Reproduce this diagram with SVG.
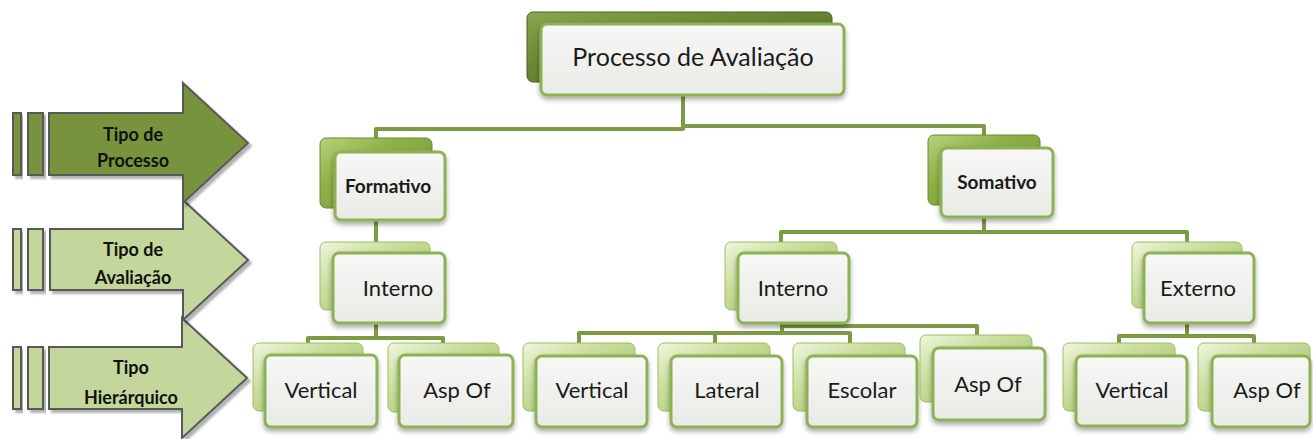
<svg xmlns="http://www.w3.org/2000/svg" width="1313" height="439" viewBox="0 0 1313 439">
  <defs>
    <linearGradient id="gDark" x1="0" y1="0" x2="1" y2="1">
      <stop offset="0" stop-color="#8aa650"/>
      <stop offset="0.35" stop-color="#6d8a36"/>
      <stop offset="1" stop-color="#4f6726"/>
    </linearGradient>
    <linearGradient id="gMid" x1="0" y1="0" x2="1" y2="1">
      <stop offset="0" stop-color="#b5d27a"/>
      <stop offset="0.35" stop-color="#8fb24a"/>
      <stop offset="1" stop-color="#6d8f30"/>
    </linearGradient>
    <linearGradient id="gLight" x1="0" y1="0" x2="1" y2="1">
      <stop offset="0" stop-color="#eef6dd"/>
      <stop offset="0.35" stop-color="#cadf9e"/>
      <stop offset="1" stop-color="#9dba60"/>
    </linearGradient>
    <linearGradient id="gFace" x1="0" y1="0" x2="0" y2="1">
      <stop offset="0" stop-color="#f7f7f5"/>
      <stop offset="1" stop-color="#e9ebe6"/>
    </linearGradient>
    <filter id="soft" x="-20%" y="-20%" width="140%" height="150%">
      <feDropShadow dx="0" dy="3" stdDeviation="2.5" flood-color="#000" flood-opacity="0.35"/>
    </filter>
    <filter id="arrowShadow" x="-10%" y="-10%" width="130%" height="130%">
      <feDropShadow dx="3" dy="3" stdDeviation="1" flood-color="#000" flood-opacity="0.3"/>
    </filter>
    <clipPath id="clipHier">
      <rect x="49" y="340" width="140" height="68"/>
    </clipPath>
    <style>
      .back-dark { fill: url(#gDark); stroke: #4a5f22; stroke-width: 1; }
      .back-mid { fill: url(#gMid); stroke: #6a8a30; stroke-width: 1; }
      .back-light { fill: url(#gLight); stroke: #9fbb68; stroke-width: 1; }
      .face { fill: url(#gFace); stroke: #8db255; stroke-width: 3; filter: url(#soft); }
      .lbl { font-family: Lato, "Liberation Sans", sans-serif; fill: #1a1a1a; text-anchor: middle; }
      .root-lbl { font-size: 25px; }
      .l2-lbl { font-size: 19px; font-weight: bold; }
      .l3-lbl { font-size: 22px; }
      .conn { fill: none; stroke: #7d9a45; stroke-width: 4; stroke-linejoin: round; }
      .arrow { stroke: #595959; stroke-width: 2; filter: url(#arrowShadow); }
      .arrow-dark { fill: #77933c; }
      .arrow-light { fill: #c3d69b; }
      .arrow-lbl { font-family: Lato, "Liberation Sans", sans-serif; font-size: 18px; font-weight: bold; fill: #111; text-anchor: middle; }
    </style>
  </defs>

  <!-- left-hand level arrows -->
  <g id="arrow-hierarquico">
    <rect class="arrow arrow-light" x="13" y="347" width="8" height="62"/>
    <rect class="arrow arrow-light" x="28" y="347" width="15" height="62"/>
    <path class="arrow arrow-light" d="M49 347 H182 V318 L247 378 L182 438 V409 H49 Z"/>
    <g clip-path="url(#clipHier)">
      <text class="arrow-lbl" x="131" y="374">Tipo</text>
      <text class="arrow-lbl" x="131" y="404">Hierárquico</text>
    </g>
  </g>
  <g id="arrow-avaliacao">
    <rect class="arrow arrow-light" x="13" y="229" width="8" height="61"/>
    <rect class="arrow arrow-light" x="28" y="229" width="15" height="61"/>
    <path class="arrow arrow-light" d="M50 229 H183 V200 L248 260 L183 320 V290 H50 Z"/>
    <text class="arrow-lbl" x="133" y="256">Tipo de</text>
    <text class="arrow-lbl" x="133" y="284">Avaliação</text>
  </g>
  <g id="arrow-processo">
    <rect class="arrow arrow-dark" x="13" y="113" width="8" height="62"/>
    <rect class="arrow arrow-dark" x="28" y="113" width="15" height="62"/>
    <path class="arrow arrow-dark" d="M49 113 H183 V83 L248 143 L183 203 V175 H49 Z"/>
    <text class="arrow-lbl" x="133" y="141">Tipo de</text>
    <text class="arrow-lbl" x="133" y="167">Processo</text>
  </g>

  <!-- connectors -->
  <g id="connectors">
    <path class="conn" d="M376 140 V129 H683 V95"/>
    <path class="conn" d="M683 126 H984 V136"/>
    <path class="conn" d="M376 220 V243"/>
    <path class="conn" d="M984 217 V232"/>
    <path class="conn" d="M781 243 V232 H1187 V243"/>
    <path class="conn" d="M376 323 V338"/>
    <path class="conn" d="M308 344 V338 H443 V344"/>
    <path class="conn" d="M782 323 V333"/>
    <path class="conn" d="M579 344 V333 H850 V344"/>
    <path class="conn" d="M715 333 V344"/>
    <path class="conn" d="M782 326 H977 V336"/>
    <path class="conn" d="M1187 323 V336"/>
    <path class="conn" d="M1119 344 V336 H1254 V344"/>
  </g>

  <!-- nodes -->
  <g id="node-processo">
    <rect class="back-dark" x="527" y="12" width="305" height="70" rx="6"/>
    <rect class="face" x="541" y="24" width="303" height="71" rx="6"/>
    <text class="lbl root-lbl" x="693" y="66">Processo de Avaliação</text>
  </g>
  <g id="node-formativo">
    <rect class="back-mid" x="320" y="138" width="112" height="70" rx="6"/>
    <rect class="face" x="335" y="152" width="110" height="68" rx="6"/>
    <text class="lbl l2-lbl" x="388" y="193">Formativo</text>
  </g>
  <g id="node-somativo">
    <rect class="back-mid" x="928" y="135" width="112" height="70" rx="6"/>
    <rect class="face" x="941" y="148" width="112" height="69" rx="6"/>
    <text class="lbl l2-lbl" x="997" y="189">Somativo</text>
  </g>
  <g id="node-interno-formativo">
    <rect class="back-light" x="320" y="242" width="110" height="68" rx="6"/>
    <rect class="face" x="333" y="253" width="112" height="70" rx="6"/>
    <text class="lbl l3-lbl" x="398" y="296">Interno</text>
  </g>
  <g id="node-interno-somativo">
    <rect class="back-light" x="725" y="242" width="112" height="68" rx="6"/>
    <rect class="face" x="738" y="253" width="111" height="70" rx="6"/>
    <text class="lbl l3-lbl" x="793" y="296">Interno</text>
  </g>
  <g id="node-externo">
    <rect class="back-light" x="1132" y="242" width="110" height="66" rx="6"/>
    <rect class="face" x="1144" y="253" width="110" height="70" rx="6"/>
    <text class="lbl l3-lbl" x="1198" y="296">Externo</text>
  </g>
  <g id="node-vertical-1">
    <rect class="back-light" x="253" y="343" width="110" height="68" rx="6"/>
    <rect class="face" x="265" y="355" width="112" height="72" rx="6"/>
    <text class="lbl l3-lbl" x="321" y="398">Vertical</text>
  </g>
  <g id="node-aspof-1">
    <rect class="back-light" x="388" y="343" width="111" height="69" rx="6"/>
    <rect class="face" x="399" y="355" width="114" height="72" rx="6"/>
    <text class="lbl l3-lbl" x="457" y="398">Asp Of</text>
  </g>
  <g id="node-vertical-2">
    <rect class="back-light" x="523" y="343" width="112" height="68" rx="6"/>
    <rect class="face" x="536" y="356" width="111" height="71" rx="6"/>
    <text class="lbl l3-lbl" x="592" y="398">Vertical</text>
  </g>
  <g id="node-lateral">
    <rect class="back-light" x="658" y="343" width="112" height="68" rx="6"/>
    <rect class="face" x="671" y="356" width="111" height="71" rx="6"/>
    <text class="lbl l3-lbl" x="727" y="398">Lateral</text>
  </g>
  <g id="node-escolar">
    <rect class="back-light" x="793" y="343" width="112" height="68" rx="6"/>
    <rect class="face" x="807" y="356" width="110" height="71" rx="6"/>
    <text class="lbl l3-lbl" x="862" y="398">Escolar</text>
  </g>
  <g id="node-aspof-2">
    <rect class="back-light" x="920" y="335" width="112" height="67" rx="6"/>
    <rect class="face" x="933" y="348" width="112" height="72" rx="6"/>
    <text class="lbl l3-lbl" x="988" y="392">Asp Of</text>
  </g>
  <g id="node-vertical-3">
    <rect class="back-light" x="1063" y="343" width="112" height="68" rx="6"/>
    <rect class="face" x="1076" y="356" width="111" height="70" rx="6"/>
    <text class="lbl l3-lbl" x="1132" y="398">Vertical</text>
  </g>
  <g id="node-aspof-3">
    <rect class="back-light" x="1198" y="343" width="112" height="68" rx="6"/>
    <rect class="face" x="1212" y="356" width="98" height="71" rx="6"/>
    <text class="lbl l3-lbl" x="1267" y="398">Asp Of</text>
  </g>
</svg>
